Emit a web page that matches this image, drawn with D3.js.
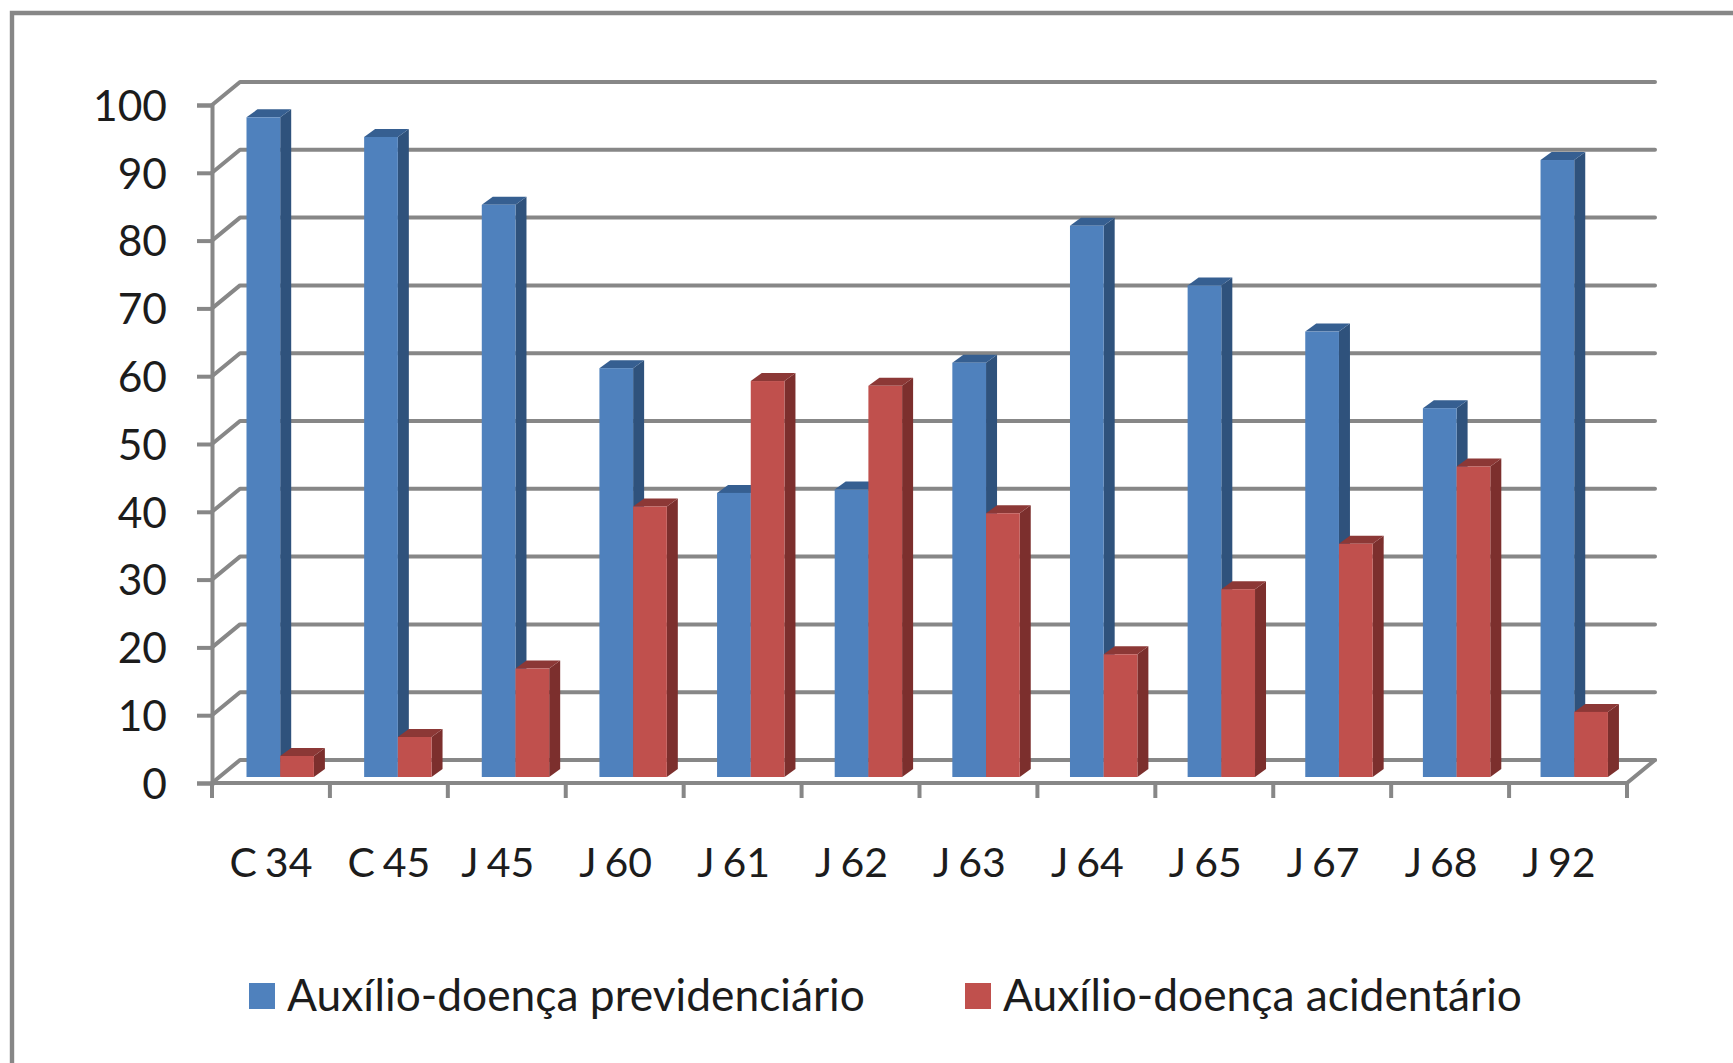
<!DOCTYPE html>
<html lang="pt">
<head>
<meta charset="utf-8">
<title>Auxílio-doença por CID</title>
<script src="https://cdn.jsdelivr.net/npm/d3@7"></script>
<style>
  html, body { margin: 0; padding: 0; background: #fff; overflow: hidden; }
  svg { display: block; }
  text { font-family: Lato, "Open Sans", sans-serif; fill: #1c1c1c; }
</style>
</head>
<body>
<svg id="chart" width="1733" height="1063"></svg>
<script>
// Values per ICD code, in percent
const categories = ["C 34", "C 45", "J 45", "J 60", "J 61", "J 62", "J 63", "J 64", "J 65", "J 67", "J 68", "J 92"];
const previdenciario = [97.3, 94.4, 84.4, 60.3, 41.9, 42.4, 61.1, 81.3, 72.5, 65.7, 54.4, 91.0];
const acidentario = [3.1, 5.9, 16.0, 39.9, 58.4, 57.7, 38.9, 18.1, 27.7, 34.4, 45.8, 9.6];
const yTicks = [0, 10, 20, 30, 40, 50, 60, 70, 80, 90, 100];
const seriesNames = ["Auxílio-doença previdenciário", "Auxílio-doença acidentário"];

const svg = d3.select("#chart");
const gridColor = "#878787";

// Outer frame runs off the right and bottom edges
svg.append("path")
  .attr("d", "M12,1063 V13 H1733")
  .attr("fill", "none").attr("stroke", gridColor).attr("stroke-width", 4.4);

// Front plane of the 3D box, and the offset of its back wall
const plotLeft = 212, plotRight = 1627, plotBase = 783, plotTop = 105;
const wallDx = 28, wallDy = -23;
const x = d3.scaleBand().domain(categories).range([plotLeft, plotRight]);
const y = d3.scaleLinear().domain([0, 100]).range([plotBase, plotTop]);

// Bars stand slightly behind the front plane
const barBase = 777, barLeft = 212.5;
const yBar = d3.scaleLinear().domain([0, 100]).range([barBase, barBase - (plotBase - plotTop)]);
const xBar = d3.scaleBand().domain(categories).range([barLeft, barLeft + 12 * 117.64]);
const barInset = 34, barW = 33.7, depthX = 11, depthY = -8;

const walls = svg.append("g")
  .attr("fill", "none").attr("stroke", gridColor)
  .attr("stroke-width", 4).attr("stroke-linejoin", "round").attr("stroke-linecap", "round");

// Back wall gridlines with their connectors down the side wall
walls.selectAll("path.grid").data(yTicks).join("path")
  .attr("class", "grid")
  .attr("d", d => `M${plotLeft},${y(d)} L${plotLeft + wallDx},${y(d) + wallDy} H${plotRight + wallDx}`);

// Right edge of the floor
walls.append("path")
  .attr("d", `M${plotRight},${plotBase} L${plotRight + wallDx},${plotBase + wallDy}`);

// Axes
const yAxis = d3.axisLeft(y).tickValues(yTicks).tickSize(15).tickPadding(30);
const xAxis = d3.axisBottom(x).tickSize(0).tickPadding(0);

const gy = svg.append("g").attr("transform", `translate(${plotLeft},0)`).call(yAxis);
gy.select(".domain").attr("stroke", gridColor).attr("stroke-width", 4);
gy.selectAll(".tick line").attr("stroke", gridColor).attr("stroke-width", 4);
gy.selectAll("text").attr("font-size", 42.5).attr("dy", "0.36em").style("font-family", "Lato");

const gx = svg.append("g").attr("transform", `translate(0,${plotBase})`).call(xAxis);
gx.select(".domain").attr("stroke", gridColor).attr("stroke-width", 4).attr("d", `M${plotLeft},0 H${plotRight}`);
gx.selectAll("text")
  .attr("font-size", 41).attr("y", 94).attr("dy", 0)
  .attr("dx", d => d.startsWith("J") ? -9 : 0)
  .style("font-family", "Lato").style("word-spacing", "-2.5px");

// Category separators hanging below the floor
svg.append("g").selectAll("line")
  .data(d3.range(categories.length + 1))
  .join("line")
  .attr("x1", i => plotLeft + i * x.step()).attr("x2", i => plotLeft + i * x.step())
  .attr("y1", plotBase).attr("y2", plotBase + 15)
  .attr("stroke", gridColor).attr("stroke-width", 4);

// One prism per value: side face, top face, then the front
function drawBars(values, offset, front, side, topFace) {
  const g = svg.append("g");
  categories.forEach((c, i) => {
    const x0 = xBar(c) + barInset + offset, x1 = x0 + barW;
    const yt = yBar(values[i]);
    g.append("path").attr("fill", side)
      .attr("d", `M${x1},${barBase} L${x1 + depthX},${barBase + depthY} V${yt + depthY} L${x1},${yt} Z`);
    g.append("path").attr("fill", topFace)
      .attr("d", `M${x0},${yt} L${x0 + depthX},${yt + depthY} H${x1 + depthX} L${x1},${yt} Z`);
    g.append("rect").attr("fill", front)
      .attr("x", x0).attr("y", yt).attr("width", barW).attr("height", barBase - yt);
  });
}

// Red sits in front of blue in every category
drawBars(previdenciario, 0, "#4F81BD", "#2F527C", "#365F91");
drawBars(acidentario, barW, "#C0504D", "#7C2F2D", "#8C3836");

// Legend
const legendColors = ["#4F81BD", "#C0504D"];
const legendX = [249, 965];
const legend = svg.append("g").selectAll("g").data(seriesNames).join("g")
  .attr("transform", (d, i) => `translate(${legendX[i]},0)`);
legend.append("rect")
  .attr("x", 0).attr("y", 983).attr("width", 26).attr("height", 26)
  .attr("fill", (d, i) => legendColors[i]);
legend.append("text")
  .attr("x", 38).attr("y", 1011).attr("font-size", 44.3)
  .text(d => d);
</script>
</body>
</html>
